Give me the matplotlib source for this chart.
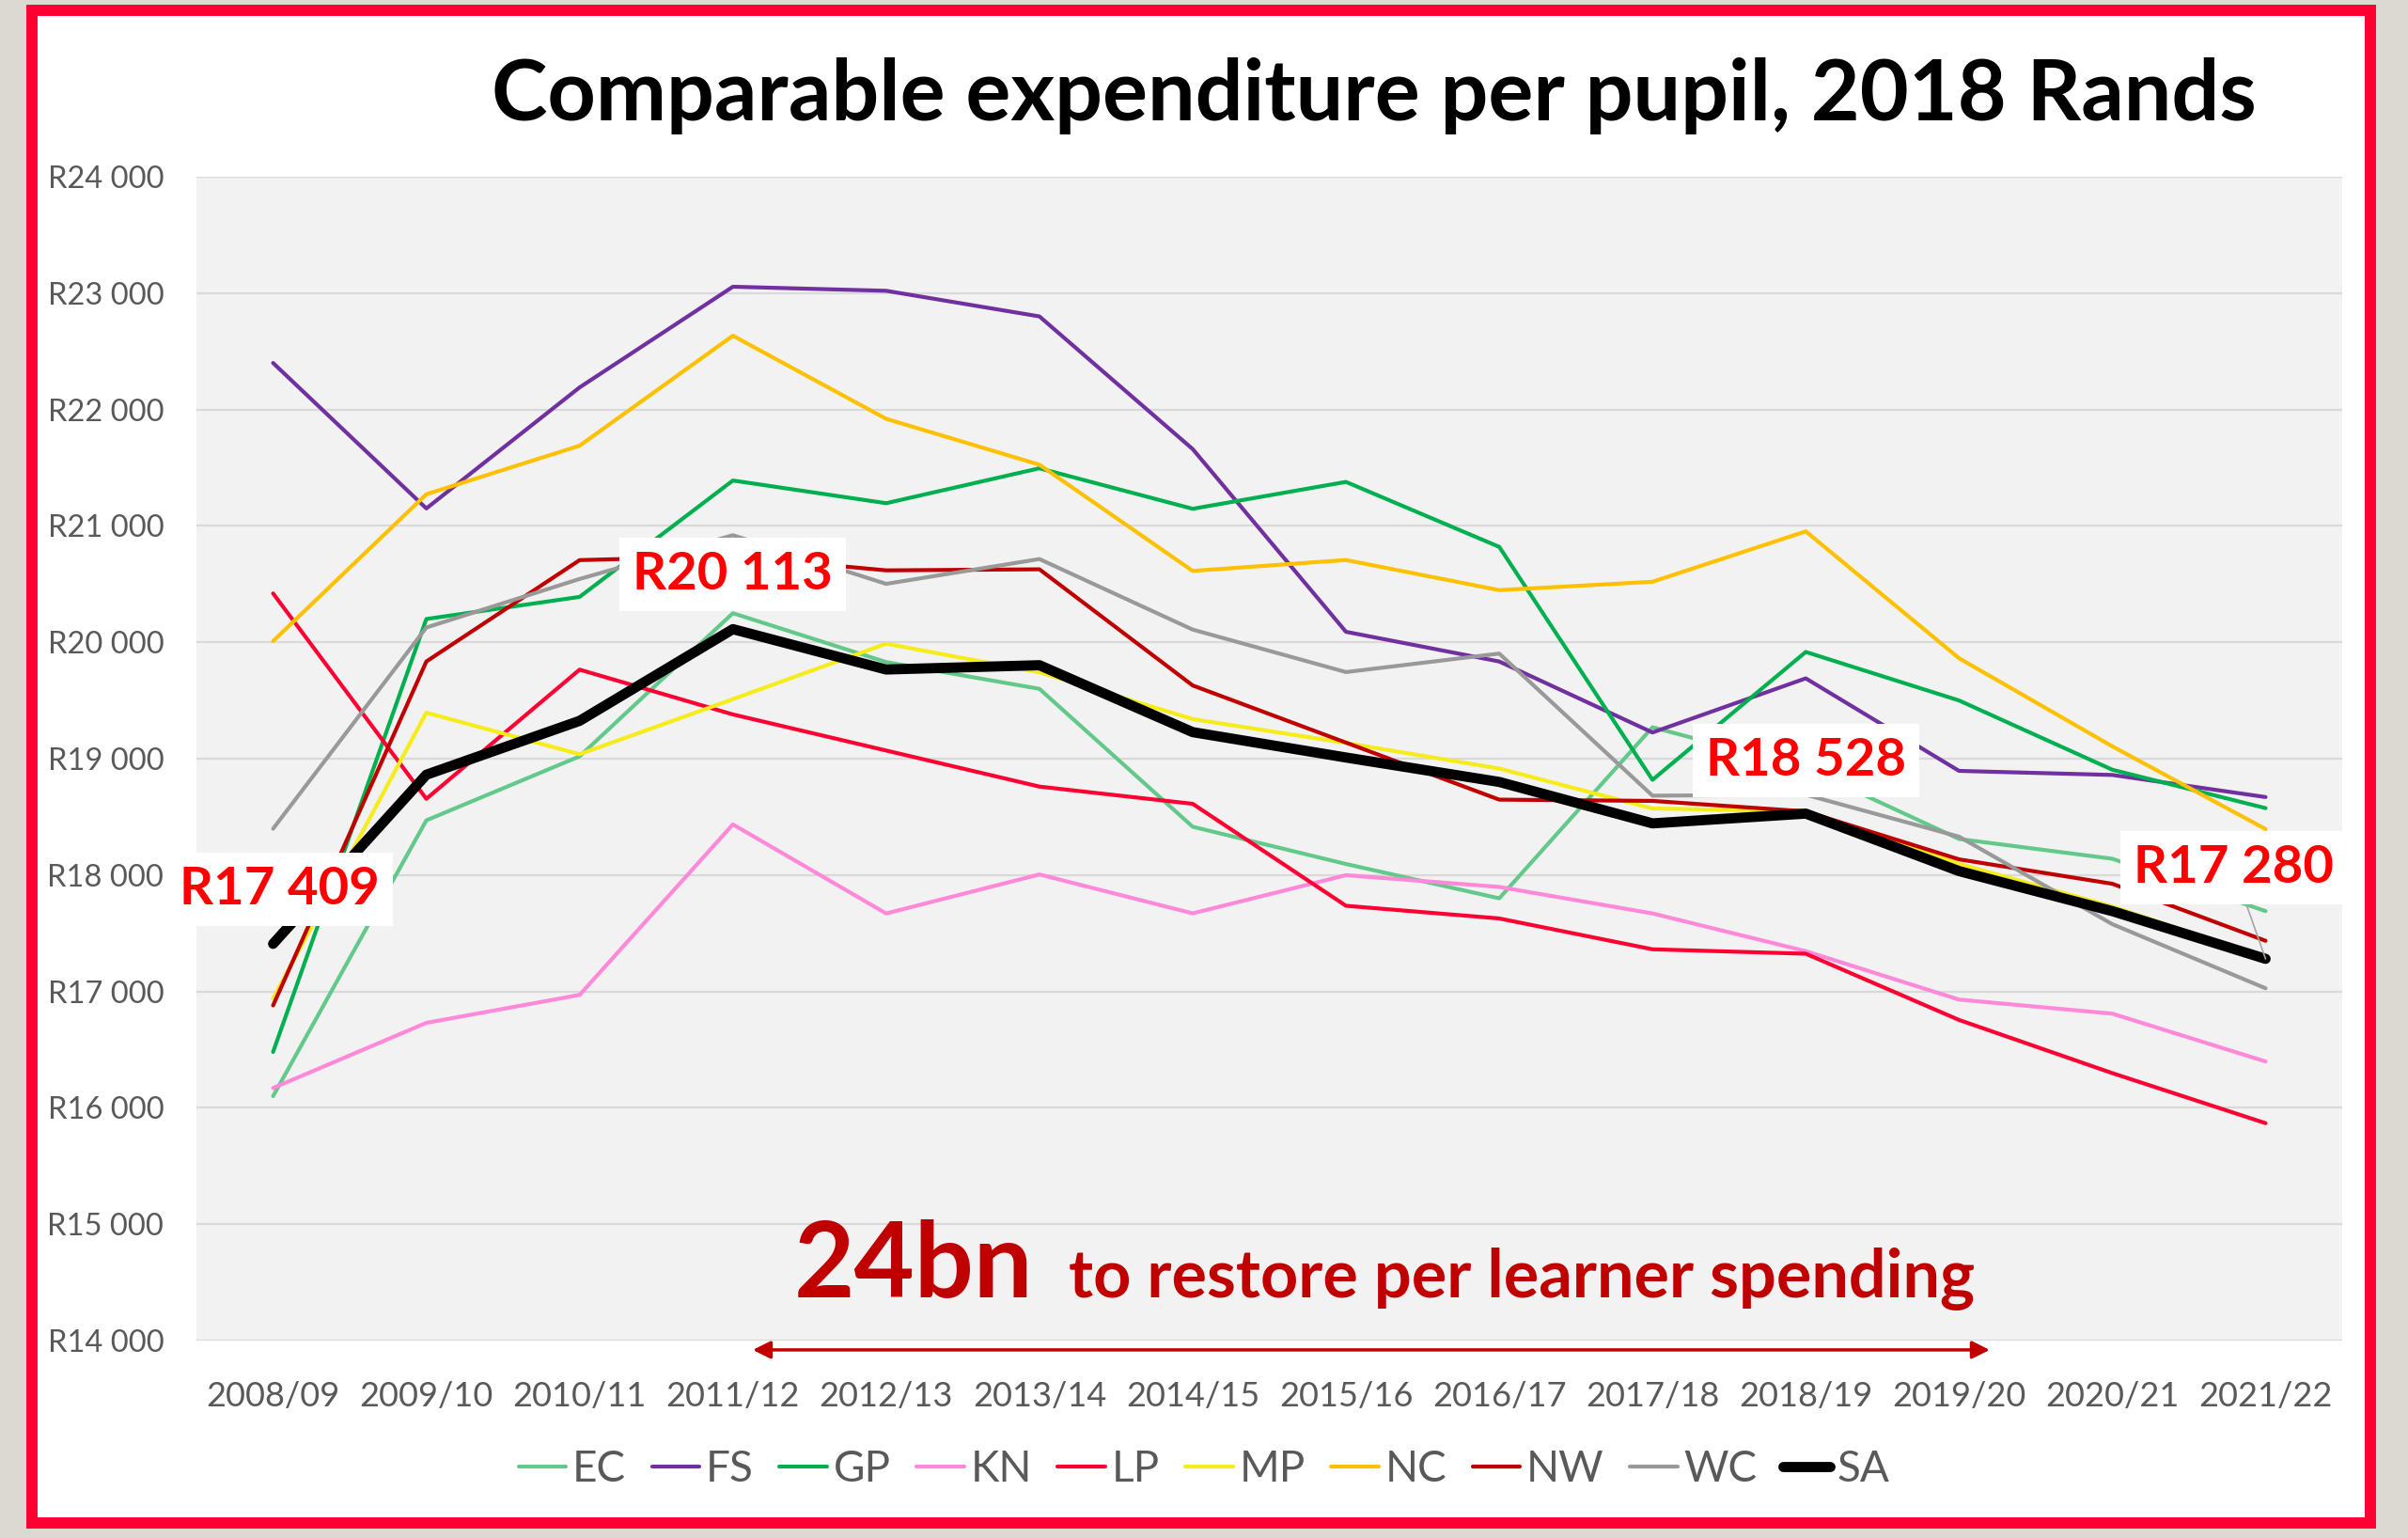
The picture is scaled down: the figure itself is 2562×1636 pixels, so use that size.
import matplotlib
matplotlib.use("Agg")
import matplotlib.pyplot as plt
from matplotlib.patches import Rectangle
from matplotlib.ticker import FuncFormatter

# data (comparable expenditure per pupil, 2018 Rands)
years = ["2008/09", "2009/10", "2010/11", "2011/12", "2012/13", "2013/14", "2014/15",
         "2015/16", "2016/17", "2017/18", "2018/19", "2019/20", "2020/21", "2021/22"]

EC = [16100, 18470, 19020, 20250, 19830, 19600, 18415, 18095, 17800, 19270, 18920, 18310, 18140, 17690]
FS = [22400, 21150, 22190, 23055, 23020, 22800, 21660, 20090, 19835, 19225, 19690, 18895, 18860, 18670]
GP = [16480, 20200, 20390, 21390, 21195, 21495, 21147, 21378, 20820, 18818, 19917, 19500, 18905, 18575]
KN = [16170, 16730, 16970, 18435, 17670, 18005, 17671, 17999, 17898, 17670, 17346, 16930, 16809, 16398]
LP = [20420, 18655, 19765, 19380, 19070, 18760, 18612, 17736, 17627, 17362, 17324, 16755, 16298, 15868]
MP = [16940, 19395, 19038, 19511, 19988, 19742, 19340, 19135, 18915, 18572, 18550, 18096, 17730, 17290]
NC = [20010, 21272, 21689, 22634, 21920, 21526, 20613, 20707, 20448, 20520, 20953, 19863, 19106, 18395]
NW = [16880, 19835, 20706, 20740, 20618, 20627, 19629, 19138, 18648, 18637, 18547, 18135, 17925, 17435]
WC = [18398, 20127, 20544, 20920, 20502, 20715, 20109, 19744, 19903, 18682, 18690, 18330, 17578, 17027]
SA = [17409, 18862, 19325, 20113, 19766, 19803, 19228, 19010, 18800, 18444, 18528, 18034, 17690, 17280]

provinces = ["EC", "FS", "GP", "KN", "LP", "MP", "NC", "NW", "WC"]
province_values = [EC, FS, GP, KN, LP, MP, NC, NW, WC]
colors = ["#63c98b", "#7030a0", "#00b050", "#ff88d8", "#ff0033",
          "#f5ec1a", "#ffc000", "#c00000", "#999999"]

# called-out SA values: (year index, value text)
callouts = [(0, "R17 409"), (3, "R20 113"), (10, "R18 528"), (13, "R17 280")]

plt.rcParams["font.family"] = ["Lato", "DejaVu Sans"]

fig = plt.figure(figsize=(25.62, 16.36), dpi=100)
fig.patch.set_facecolor("#dcd9d3")

# white card with red frame (behind everything)
fig.patches.append(Rectangle((0.01327, 0.00978), 0.9711, 0.9835, transform=fig.transFigure,
                             facecolor="white", edgecolor="#ff0033", linewidth=8.6, zorder=-10))

ax = fig.add_axes([0.08158, 0.12836, 0.89110, 0.75672])
ax.set_facecolor("#f2f2f2")
x = list(range(len(years)))

for name, vals, c in zip(provinces, province_values, colors):
    ax.plot(x, vals, color=c, lw=3, label=name, solid_joinstyle="round",
            solid_capstyle="round", zorder=3)
ax.plot(x, SA, color="black", lw=7.8, label="SA", solid_joinstyle="round",
        solid_capstyle="round", zorder=4)

ax.set_xlim(-0.5, len(years) - 0.5)
ax.set_ylim(14000, 24000)
ax.set_yticks(range(14000, 24001, 1000))
ax.yaxis.set_major_formatter(FuncFormatter(lambda v, p: "R" + format(int(v), ",").replace(",", " ")))
ax.set_xticks(x)
ax.set_xticklabels(years)
ax.grid(axis="y", color="#d9d9d9", lw=1.6, zorder=1)
ax.set_axisbelow(True)
for s in ax.spines.values():
    s.set_visible(False)
ax.tick_params(axis="x", length=0, labelsize=26, labelcolor="#595959", pad=31)
ax.tick_params(axis="y", length=0, labelsize=23.5, labelcolor="#595959", pad=25)

fig.text(0.5707, 0.9218, "Comparable expenditure per pupil, 2018 Rands", ha="center",
         va="baseline", fontsize=64.5, fontweight="bold", color="black")

# value call-outs
box = dict(facecolor="white", edgecolor="none", boxstyle="square,pad=0.25")
label_pos = {0: (0.04, 17880), 3: (3.0, 20580), 10: (10.0, 18985), 13: (12.79, 18064)}
for i, txt in callouts:
    lx, ly = label_pos[i]
    if i == len(years) - 1:
        ax.annotate(txt, xy=(i, SA[i]), xytext=(lx, ly), ha="center", va="center",
                    fontsize=40.5, fontweight="bold", color="#ff0000", bbox=box, zorder=6,
                    arrowprops=dict(arrowstyle="-", color="#a6a6a6", lw=1.2,
                                    shrinkA=0, shrinkB=0))
    else:
        ax.text(lx, ly, txt, ha="center", va="center", fontsize=40.5, fontweight="bold",
                color="#ff0000", bbox=box, zorder=6)

# funding gap note
ax.text(3.40, 14371, "24bn", fontsize=80, fontweight="bold", color="#c00000",
        va="baseline", ha="left", zorder=5)
ax.text(5.19, 14371, "to restore per learner spending", fontsize=50.5, fontweight="bold",
        color="#c00000", va="baseline", ha="left", zorder=5)
ax.annotate("", xy=(11.2, -0.008), xytext=(3.13, -0.008),
            xycoords=("data", "axes fraction"), textcoords=("data", "axes fraction"),
            arrowprops=dict(arrowstyle="<|-|>", color="#c00000", lw=2.5, mutation_scale=28,
                            shrinkA=0, shrinkB=0),
            annotation_clip=False)

handles, labels = ax.get_legend_handles_labels()
fig.legend(handles, labels, loc="center", bbox_to_anchor=(0.5, 0.0446), ncol=10,
           frameon=False, fontsize=33, handlelength=1.1, handletextpad=0.15,
           columnspacing=0.6, labelcolor="#595959")

fig.savefig("out.png", dpi=100, facecolor=fig.get_facecolor())
